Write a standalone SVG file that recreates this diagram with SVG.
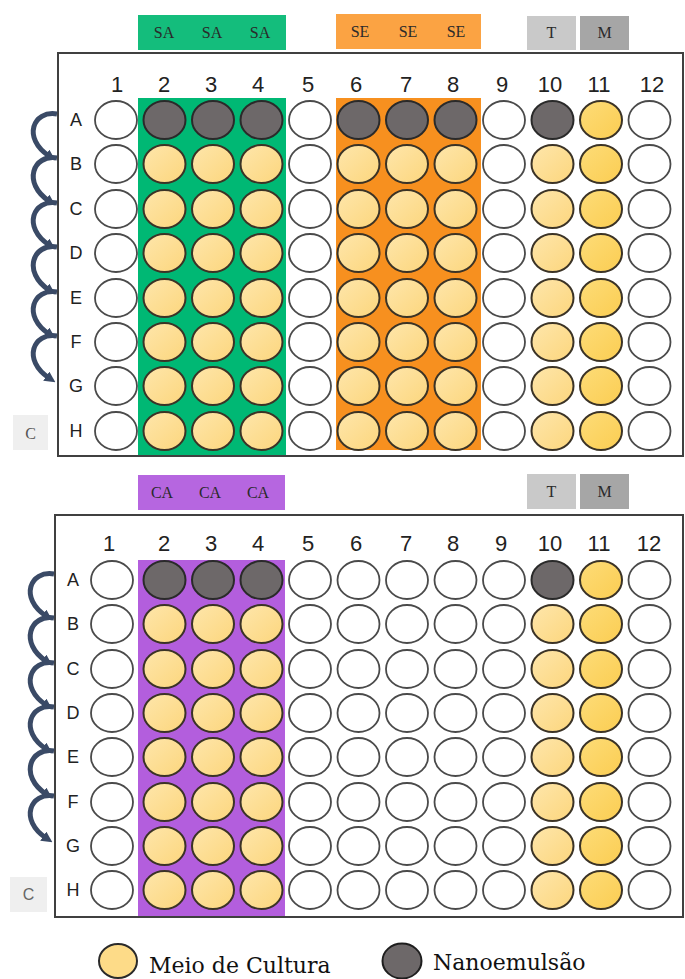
<svg xmlns="http://www.w3.org/2000/svg" width="685" height="979" viewBox="0 0 685 979">
<style>
.w{fill:#ffffff;stroke:#4a4a4a;stroke-width:1.8}
.g{fill:#6d6869;stroke:#2a2a2a;stroke-width:2}
.y{fill:url(#gy);stroke:#3b3326;stroke-width:2}
.o{fill:url(#go);stroke:#3b3326;stroke-width:2}
.frame{fill:none;stroke:#404040;stroke-width:2}
.col{font-family:"Liberation Sans","Open Sans",sans-serif;font-size:22px;fill:#222;text-anchor:middle}
.row{font-family:"Liberation Sans","Open Sans",sans-serif;font-size:18px;fill:#222;text-anchor:middle}
.hdr{font-family:"Liberation Serif","DejaVu Serif",serif;font-size:16px;fill:#2a2a2a;text-anchor:middle}
.leg{font-family:"DejaVu Serif","Liberation Serif",serif;font-size:22px;fill:#111}
.arr{fill:none;stroke:#3a4a66;stroke-width:5;stroke-linecap:butt;marker-end:url(#ah)}
</style>
<defs>
<linearGradient id="gy" x1="0" y1="0" x2="1" y2="1"><stop offset="0" stop-color="#fee6ab"/><stop offset="1" stop-color="#fcd67d"/></linearGradient>
<linearGradient id="go" x1="0" y1="0" x2="1" y2="1"><stop offset="0" stop-color="#fddc78"/><stop offset="1" stop-color="#fbcd52"/></linearGradient>
<marker id="ah" viewBox="0 0 10 10" markerWidth="11" markerHeight="11" refX="3" refY="5" orient="auto" markerUnits="userSpaceOnUse"><path d="M0,0 L10,5 L0,10 z" fill="#3a4a66"/></marker>
</defs>
<rect width="685" height="979" fill="#ffffff"/>

<!-- Top plate headers -->
<g id="hdr-top">
<rect x="138" y="15" width="148" height="35" fill="#14bd7c"/>
<text class="hdr" x="164" y="38">SA</text><text class="hdr" x="212" y="38">SA</text><text class="hdr" x="260" y="38">SA</text>
<rect x="336" y="14" width="145" height="35" fill="#fba343"/>
<text class="hdr" x="360" y="37">SE</text><text class="hdr" x="408" y="37">SE</text><text class="hdr" x="456" y="37">SE</text>
<rect x="527" y="16" width="49" height="34" fill="#c9c9c9"/><text class="hdr" x="551.5" y="38">T</text>
<rect x="580" y="16" width="49" height="34" fill="#a6a6a6"/><text class="hdr" x="604.5" y="38">M</text>
</g>

<!-- Top plate -->
<g id="plate1">
<rect x="138" y="98" width="148" height="358" fill="#00b874"/>
<rect x="336" y="98" width="145" height="352" fill="#f7901f"/>
<rect class="frame" x="58" y="53" width="625" height="403"/>
<g id="p1-cols">
<text class="col" x="117" y="92">1</text><text class="col" x="164" y="92">2</text><text class="col" x="211" y="92">3</text><text class="col" x="258" y="92">4</text><text class="col" x="308" y="92">5</text><text class="col" x="356" y="92">6</text><text class="col" x="406" y="92">7</text><text class="col" x="453" y="92">8</text><text class="col" x="502" y="92">9</text><text class="col" x="550" y="92">10</text><text class="col" x="599" y="92">11</text><text class="col" x="652" y="92">12</text>
</g>
<g id="p1-rows">
<text class="row" x="76" y="126">A</text><text class="row" x="76" y="170">B</text><text class="row" x="76" y="215">C</text><text class="row" x="76" y="259">D</text><text class="row" x="76" y="304">E</text><text class="row" x="76" y="348">F</text><text class="row" x="76" y="392">G</text><text class="row" x="76" y="437">H</text>
</g>
<g id="p1-A">
<ellipse class="w" cx="116" cy="120" rx="21" ry="19"/><ellipse class="g" cx="164.5" cy="120" rx="21" ry="19"/><ellipse class="g" cx="213" cy="120" rx="21" ry="19"/><ellipse class="g" cx="261.5" cy="120" rx="21" ry="19"/><ellipse class="w" cx="310" cy="120" rx="21" ry="19"/><ellipse class="g" cx="358.5" cy="120" rx="21" ry="19"/><ellipse class="g" cx="407" cy="120" rx="21" ry="19"/><ellipse class="g" cx="455.5" cy="120" rx="21" ry="19"/><ellipse class="w" cx="504" cy="120" rx="21" ry="19"/><ellipse class="g" cx="552.5" cy="120" rx="21" ry="19"/><ellipse class="o" cx="601" cy="120" rx="21" ry="19"/><ellipse class="w" cx="649.5" cy="120" rx="21" ry="19"/>
</g>
<g id="p1-B">
<ellipse class="w" cx="116" cy="164" rx="21" ry="19"/><ellipse class="y" cx="164.5" cy="164" rx="21" ry="19"/><ellipse class="y" cx="213" cy="164" rx="21" ry="19"/><ellipse class="y" cx="261.5" cy="164" rx="21" ry="19"/><ellipse class="w" cx="310" cy="164" rx="21" ry="19"/><ellipse class="y" cx="358.5" cy="164" rx="21" ry="19"/><ellipse class="y" cx="407" cy="164" rx="21" ry="19"/><ellipse class="y" cx="455.5" cy="164" rx="21" ry="19"/><ellipse class="w" cx="504" cy="164" rx="21" ry="19"/><ellipse class="y" cx="552.5" cy="164" rx="21" ry="19"/><ellipse class="o" cx="601" cy="164" rx="21" ry="19"/><ellipse class="w" cx="649.5" cy="164" rx="21" ry="19"/>
</g>
<g id="p1-C">
<ellipse class="w" cx="116" cy="209" rx="21" ry="19"/><ellipse class="y" cx="164.5" cy="209" rx="21" ry="19"/><ellipse class="y" cx="213" cy="209" rx="21" ry="19"/><ellipse class="y" cx="261.5" cy="209" rx="21" ry="19"/><ellipse class="w" cx="310" cy="209" rx="21" ry="19"/><ellipse class="y" cx="358.5" cy="209" rx="21" ry="19"/><ellipse class="y" cx="407" cy="209" rx="21" ry="19"/><ellipse class="y" cx="455.5" cy="209" rx="21" ry="19"/><ellipse class="w" cx="504" cy="209" rx="21" ry="19"/><ellipse class="y" cx="552.5" cy="209" rx="21" ry="19"/><ellipse class="o" cx="601" cy="209" rx="21" ry="19"/><ellipse class="w" cx="649.5" cy="209" rx="21" ry="19"/>
</g>
<g id="p1-D">
<ellipse class="w" cx="116" cy="253" rx="21" ry="19"/><ellipse class="y" cx="164.5" cy="253" rx="21" ry="19"/><ellipse class="y" cx="213" cy="253" rx="21" ry="19"/><ellipse class="y" cx="261.5" cy="253" rx="21" ry="19"/><ellipse class="w" cx="310" cy="253" rx="21" ry="19"/><ellipse class="y" cx="358.5" cy="253" rx="21" ry="19"/><ellipse class="y" cx="407" cy="253" rx="21" ry="19"/><ellipse class="y" cx="455.5" cy="253" rx="21" ry="19"/><ellipse class="w" cx="504" cy="253" rx="21" ry="19"/><ellipse class="y" cx="552.5" cy="253" rx="21" ry="19"/><ellipse class="o" cx="601" cy="253" rx="21" ry="19"/><ellipse class="w" cx="649.5" cy="253" rx="21" ry="19"/>
</g>
<g id="p1-E">
<ellipse class="w" cx="116" cy="298" rx="21" ry="19"/><ellipse class="y" cx="164.5" cy="298" rx="21" ry="19"/><ellipse class="y" cx="213" cy="298" rx="21" ry="19"/><ellipse class="y" cx="261.5" cy="298" rx="21" ry="19"/><ellipse class="w" cx="310" cy="298" rx="21" ry="19"/><ellipse class="y" cx="358.5" cy="298" rx="21" ry="19"/><ellipse class="y" cx="407" cy="298" rx="21" ry="19"/><ellipse class="y" cx="455.5" cy="298" rx="21" ry="19"/><ellipse class="w" cx="504" cy="298" rx="21" ry="19"/><ellipse class="y" cx="552.5" cy="298" rx="21" ry="19"/><ellipse class="o" cx="601" cy="298" rx="21" ry="19"/><ellipse class="w" cx="649.5" cy="298" rx="21" ry="19"/>
</g>
<g id="p1-F">
<ellipse class="w" cx="116" cy="342" rx="21" ry="19"/><ellipse class="y" cx="164.5" cy="342" rx="21" ry="19"/><ellipse class="y" cx="213" cy="342" rx="21" ry="19"/><ellipse class="y" cx="261.5" cy="342" rx="21" ry="19"/><ellipse class="w" cx="310" cy="342" rx="21" ry="19"/><ellipse class="y" cx="358.5" cy="342" rx="21" ry="19"/><ellipse class="y" cx="407" cy="342" rx="21" ry="19"/><ellipse class="y" cx="455.5" cy="342" rx="21" ry="19"/><ellipse class="w" cx="504" cy="342" rx="21" ry="19"/><ellipse class="y" cx="552.5" cy="342" rx="21" ry="19"/><ellipse class="o" cx="601" cy="342" rx="21" ry="19"/><ellipse class="w" cx="649.5" cy="342" rx="21" ry="19"/>
</g>
<g id="p1-G">
<ellipse class="w" cx="116" cy="386" rx="21" ry="19"/><ellipse class="y" cx="164.5" cy="386" rx="21" ry="19"/><ellipse class="y" cx="213" cy="386" rx="21" ry="19"/><ellipse class="y" cx="261.5" cy="386" rx="21" ry="19"/><ellipse class="w" cx="310" cy="386" rx="21" ry="19"/><ellipse class="y" cx="358.5" cy="386" rx="21" ry="19"/><ellipse class="y" cx="407" cy="386" rx="21" ry="19"/><ellipse class="y" cx="455.5" cy="386" rx="21" ry="19"/><ellipse class="w" cx="504" cy="386" rx="21" ry="19"/><ellipse class="y" cx="552.5" cy="386" rx="21" ry="19"/><ellipse class="o" cx="601" cy="386" rx="21" ry="19"/><ellipse class="w" cx="649.5" cy="386" rx="21" ry="19"/>
</g>
<g id="p1-H">
<ellipse class="w" cx="116" cy="431" rx="21" ry="19"/><ellipse class="y" cx="164.5" cy="431" rx="21" ry="19"/><ellipse class="y" cx="213" cy="431" rx="21" ry="19"/><ellipse class="y" cx="261.5" cy="431" rx="21" ry="19"/><ellipse class="w" cx="310" cy="431" rx="21" ry="19"/><ellipse class="y" cx="358.5" cy="431" rx="21" ry="19"/><ellipse class="y" cx="407" cy="431" rx="21" ry="19"/><ellipse class="y" cx="455.5" cy="431" rx="21" ry="19"/><ellipse class="w" cx="504" cy="431" rx="21" ry="19"/><ellipse class="y" cx="552.5" cy="431" rx="21" ry="19"/><ellipse class="o" cx="601" cy="431" rx="21" ry="19"/><ellipse class="w" cx="649.5" cy="431" rx="21" ry="19"/>
</g>
</g>
<g id="c-top">
<rect x="13" y="415" width="35" height="35" fill="#efefef"/>
<text x="30.5" y="439" font-family="Liberation Serif,serif" font-size="16" fill="#555" text-anchor="middle">C</text>
</g>

<!-- Bottom plate headers -->
<g id="hdr-bottom">
<rect x="138" y="475" width="147" height="35" fill="#b666e0"/>
<text class="hdr" x="162" y="498">CA</text><text class="hdr" x="210" y="498">CA</text><text class="hdr" x="258" y="498">CA</text>
<rect x="527" y="474" width="49" height="35" fill="#c9c9c9"/><text class="hdr" x="551.5" y="497">T</text>
<rect x="580" y="474" width="49" height="35" fill="#a6a6a6"/><text class="hdr" x="604.5" y="497">M</text>
</g>

<!-- Bottom plate -->
<g id="plate2">
<rect x="138" y="560" width="147" height="357" fill="#b35edd"/>
<rect class="frame" x="55" y="515" width="628" height="402"/>
<g id="p2-cols">
<text class="col" x="109" y="551">1</text><text class="col" x="164" y="551">2</text><text class="col" x="211" y="551">3</text><text class="col" x="258" y="551">4</text><text class="col" x="308" y="551">5</text><text class="col" x="356" y="551">6</text><text class="col" x="406" y="551">7</text><text class="col" x="453" y="551">8</text><text class="col" x="501" y="551">9</text><text class="col" x="550" y="551">10</text><text class="col" x="599" y="551">11</text><text class="col" x="649" y="551">12</text>
</g>
<g id="p2-rows">
<text class="row" x="73" y="586">A</text><text class="row" x="73" y="630">B</text><text class="row" x="73" y="675">C</text><text class="row" x="73" y="719">D</text><text class="row" x="73" y="763">E</text><text class="row" x="73" y="808">F</text><text class="row" x="73" y="852">G</text><text class="row" x="73" y="896">H</text>
</g>
<g id="p2-A">
<ellipse class="w" cx="112" cy="580" rx="21" ry="19"/><ellipse class="g" cx="164.5" cy="580" rx="21" ry="19"/><ellipse class="g" cx="213" cy="580" rx="21" ry="19"/><ellipse class="g" cx="261.5" cy="580" rx="21" ry="19"/><ellipse class="w" cx="310" cy="580" rx="21" ry="19"/><ellipse class="w" cx="358.5" cy="580" rx="21" ry="19"/><ellipse class="w" cx="407" cy="580" rx="21" ry="19"/><ellipse class="w" cx="455.5" cy="580" rx="21" ry="19"/><ellipse class="w" cx="504" cy="580" rx="21" ry="19"/><ellipse class="g" cx="552.5" cy="580" rx="21" ry="19"/><ellipse class="o" cx="601" cy="580" rx="21" ry="19"/><ellipse class="w" cx="649.5" cy="580" rx="21" ry="19"/>
</g>
<g id="p2-B">
<ellipse class="w" cx="112" cy="624" rx="21" ry="19"/><ellipse class="y" cx="164.5" cy="624" rx="21" ry="19"/><ellipse class="y" cx="213" cy="624" rx="21" ry="19"/><ellipse class="y" cx="261.5" cy="624" rx="21" ry="19"/><ellipse class="w" cx="310" cy="624" rx="21" ry="19"/><ellipse class="w" cx="358.5" cy="624" rx="21" ry="19"/><ellipse class="w" cx="407" cy="624" rx="21" ry="19"/><ellipse class="w" cx="455.5" cy="624" rx="21" ry="19"/><ellipse class="w" cx="504" cy="624" rx="21" ry="19"/><ellipse class="y" cx="552.5" cy="624" rx="21" ry="19"/><ellipse class="o" cx="601" cy="624" rx="21" ry="19"/><ellipse class="w" cx="649.5" cy="624" rx="21" ry="19"/>
</g>
<g id="p2-C">
<ellipse class="w" cx="112" cy="669" rx="21" ry="19"/><ellipse class="y" cx="164.5" cy="669" rx="21" ry="19"/><ellipse class="y" cx="213" cy="669" rx="21" ry="19"/><ellipse class="y" cx="261.5" cy="669" rx="21" ry="19"/><ellipse class="w" cx="310" cy="669" rx="21" ry="19"/><ellipse class="w" cx="358.5" cy="669" rx="21" ry="19"/><ellipse class="w" cx="407" cy="669" rx="21" ry="19"/><ellipse class="w" cx="455.5" cy="669" rx="21" ry="19"/><ellipse class="w" cx="504" cy="669" rx="21" ry="19"/><ellipse class="y" cx="552.5" cy="669" rx="21" ry="19"/><ellipse class="o" cx="601" cy="669" rx="21" ry="19"/><ellipse class="w" cx="649.5" cy="669" rx="21" ry="19"/>
</g>
<g id="p2-D">
<ellipse class="w" cx="112" cy="713" rx="21" ry="19"/><ellipse class="y" cx="164.5" cy="713" rx="21" ry="19"/><ellipse class="y" cx="213" cy="713" rx="21" ry="19"/><ellipse class="y" cx="261.5" cy="713" rx="21" ry="19"/><ellipse class="w" cx="310" cy="713" rx="21" ry="19"/><ellipse class="w" cx="358.5" cy="713" rx="21" ry="19"/><ellipse class="w" cx="407" cy="713" rx="21" ry="19"/><ellipse class="w" cx="455.5" cy="713" rx="21" ry="19"/><ellipse class="w" cx="504" cy="713" rx="21" ry="19"/><ellipse class="y" cx="552.5" cy="713" rx="21" ry="19"/><ellipse class="o" cx="601" cy="713" rx="21" ry="19"/><ellipse class="w" cx="649.5" cy="713" rx="21" ry="19"/>
</g>
<g id="p2-E">
<ellipse class="w" cx="112" cy="757" rx="21" ry="19"/><ellipse class="y" cx="164.5" cy="757" rx="21" ry="19"/><ellipse class="y" cx="213" cy="757" rx="21" ry="19"/><ellipse class="y" cx="261.5" cy="757" rx="21" ry="19"/><ellipse class="w" cx="310" cy="757" rx="21" ry="19"/><ellipse class="w" cx="358.5" cy="757" rx="21" ry="19"/><ellipse class="w" cx="407" cy="757" rx="21" ry="19"/><ellipse class="w" cx="455.5" cy="757" rx="21" ry="19"/><ellipse class="w" cx="504" cy="757" rx="21" ry="19"/><ellipse class="y" cx="552.5" cy="757" rx="21" ry="19"/><ellipse class="o" cx="601" cy="757" rx="21" ry="19"/><ellipse class="w" cx="649.5" cy="757" rx="21" ry="19"/>
</g>
<g id="p2-F">
<ellipse class="w" cx="112" cy="802" rx="21" ry="19"/><ellipse class="y" cx="164.5" cy="802" rx="21" ry="19"/><ellipse class="y" cx="213" cy="802" rx="21" ry="19"/><ellipse class="y" cx="261.5" cy="802" rx="21" ry="19"/><ellipse class="w" cx="310" cy="802" rx="21" ry="19"/><ellipse class="w" cx="358.5" cy="802" rx="21" ry="19"/><ellipse class="w" cx="407" cy="802" rx="21" ry="19"/><ellipse class="w" cx="455.5" cy="802" rx="21" ry="19"/><ellipse class="w" cx="504" cy="802" rx="21" ry="19"/><ellipse class="y" cx="552.5" cy="802" rx="21" ry="19"/><ellipse class="o" cx="601" cy="802" rx="21" ry="19"/><ellipse class="w" cx="649.5" cy="802" rx="21" ry="19"/>
</g>
<g id="p2-G">
<ellipse class="w" cx="112" cy="846" rx="21" ry="19"/><ellipse class="y" cx="164.5" cy="846" rx="21" ry="19"/><ellipse class="y" cx="213" cy="846" rx="21" ry="19"/><ellipse class="y" cx="261.5" cy="846" rx="21" ry="19"/><ellipse class="w" cx="310" cy="846" rx="21" ry="19"/><ellipse class="w" cx="358.5" cy="846" rx="21" ry="19"/><ellipse class="w" cx="407" cy="846" rx="21" ry="19"/><ellipse class="w" cx="455.5" cy="846" rx="21" ry="19"/><ellipse class="w" cx="504" cy="846" rx="21" ry="19"/><ellipse class="y" cx="552.5" cy="846" rx="21" ry="19"/><ellipse class="o" cx="601" cy="846" rx="21" ry="19"/><ellipse class="w" cx="649.5" cy="846" rx="21" ry="19"/>
</g>
<g id="p2-H">
<ellipse class="w" cx="112" cy="890" rx="21" ry="19"/><ellipse class="y" cx="164.5" cy="890" rx="21" ry="19"/><ellipse class="y" cx="213" cy="890" rx="21" ry="19"/><ellipse class="y" cx="261.5" cy="890" rx="21" ry="19"/><ellipse class="w" cx="310" cy="890" rx="21" ry="19"/><ellipse class="w" cx="358.5" cy="890" rx="21" ry="19"/><ellipse class="w" cx="407" cy="890" rx="21" ry="19"/><ellipse class="w" cx="455.5" cy="890" rx="21" ry="19"/><ellipse class="w" cx="504" cy="890" rx="21" ry="19"/><ellipse class="y" cx="552.5" cy="890" rx="21" ry="19"/><ellipse class="o" cx="601" cy="890" rx="21" ry="19"/><ellipse class="w" cx="649.5" cy="890" rx="21" ry="19"/>
</g>
</g>
<g id="c-bottom">
<rect x="10" y="877" width="37" height="35" fill="#efefef"/>
<text x="28.5" y="900" font-family="Liberation Sans,sans-serif" font-size="16" fill="#666" text-anchor="middle">C</text>
</g>

<!-- Connectors: serial dilution arrows -->
<g id="connectors">
<path class="arr" d="M57 114 C33 110, 22 138, 49 156"/>
<path class="arr" d="M57 158 C33 154, 22 183, 49 201"/>
<path class="arr" d="M57 203 C33 199, 22 227, 49 245"/>
<path class="arr" d="M57 247 C33 243, 22 272, 49 290"/>
<path class="arr" d="M57 292 C33 288, 22 316, 49 334"/>
<path class="arr" d="M57 336 C33 332, 22 360, 49 378"/>
<path class="arr" d="M54 574 C30 570, 19 598, 46 616"/>
<path class="arr" d="M54 618 C30 614, 19 643, 46 661"/>
<path class="arr" d="M54 663 C30 659, 19 687, 46 705"/>
<path class="arr" d="M54 707 C30 703, 19 731, 46 749"/>
<path class="arr" d="M54 751 C30 747, 19 776, 46 794"/>
<path class="arr" d="M54 796 C30 792, 19 820, 46 838"/>
</g>

<!-- Legend -->
<g id="legend">
<ellipse cx="118" cy="961" rx="19" ry="17" fill="#fddb88" stroke="#2a2a2a" stroke-width="2"/>
<text class="leg" x="149" y="973">Meio de Cultura</text>
<ellipse cx="402" cy="961" rx="19.5" ry="17.5" fill="#6d6869" stroke="#1e1e1e" stroke-width="2"/>
<text class="leg" x="433" y="970">Nanoemulsão</text>
</g>
</svg>
